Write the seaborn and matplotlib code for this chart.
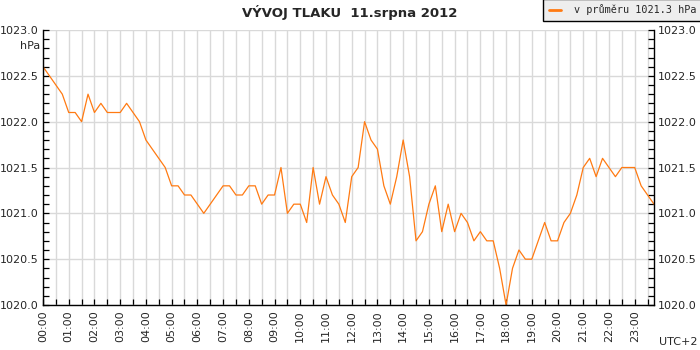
import numpy as np
import pandas as pd
import seaborn as sns
import matplotlib.pyplot as plt
from matplotlib.ticker import MultipleLocator, FixedLocator
from matplotlib.lines import Line2D

# tlak po 15 minutach, 00:00 - 23:45
pressure = [
    1022.6, 1022.5, 1022.4, 1022.3, 1022.1, 1022.1, 1022.0, 1022.3,
    1022.1, 1022.2, 1022.1, 1022.1, 1022.1, 1022.2, 1022.1, 1022.0,
    1021.8, 1021.7, 1021.6, 1021.5, 1021.3, 1021.3, 1021.2, 1021.2,
    1021.1, 1021.0, 1021.1, 1021.2, 1021.3, 1021.3, 1021.2, 1021.2,
    1021.3, 1021.3, 1021.1, 1021.2, 1021.2, 1021.5, 1021.0, 1021.1,
    1021.1, 1020.9, 1021.5, 1021.1, 1021.4, 1021.2, 1021.1, 1020.9,
    1021.4, 1021.5, 1022.0, 1021.8, 1021.7, 1021.3, 1021.1, 1021.4,
    1021.8, 1021.4, 1020.7, 1020.8, 1021.1, 1021.3, 1020.8, 1021.1,
    1020.8, 1021.0, 1020.9, 1020.7, 1020.8, 1020.7, 1020.7, 1020.4,
    1020.0, 1020.4, 1020.6, 1020.5, 1020.5, 1020.7, 1020.9, 1020.7,
    1020.7, 1020.9, 1021.0, 1021.2, 1021.5, 1021.6, 1021.4, 1021.6,
    1021.5, 1021.4, 1021.5, 1021.5, 1021.5, 1021.3, 1021.2, 1021.1,
]
hour_labels = [f"{h:02d}:00" for h in range(24)]
title = "VÝVOJ TLAKU  11.srpna 2012"
legend_label = "v průměru 1021.3 hPa"

df = pd.DataFrame({
    'hour': np.arange(len(pressure)) * 0.25,
    'tlak': pressure,
})

sns.set_style('white')
plt.rcParams['font.family'] = ['DejaVu Sans']

fig = plt.figure(figsize=(7, 3.5), dpi=100)
ax = fig.add_axes([43 / 700, 45 / 350, 611 / 700, 275 / 350])

grid_c = '#d9d9d9'
line_c = '#ff7a12'

sns.lineplot(data=df, x='hour', y='tlak', color=line_c, linewidth=0.9, ax=ax)

ax.set_xlim(0, 23.75)
ax.set_ylim(1020.0, 1023.0)

ax.xaxis.set_major_locator(FixedLocator(range(24)))
ax.xaxis.set_minor_locator(MultipleLocator(0.5))
ax.set_xticklabels(hour_labels, rotation=90, fontsize=8)
ax.yaxis.set_major_locator(MultipleLocator(0.5))
ax.yaxis.set_minor_locator(MultipleLocator(0.1))
ax.yaxis.set_major_formatter(lambda v, p: f"{v:.1f}")

ax.grid(True, which='major', axis='y', color=grid_c, linewidth=1)
ax.grid(True, which='both', axis='x', color=grid_c, linewidth=1)
ax.set_axisbelow(True)

ax.tick_params(axis='both', which='both', direction='in', color='black',
               width=0.9, labelsize=8)
ax.tick_params(axis='y', which='both', left=True, right=True,
               labelleft=True, labelright=True, length=4, pad=3)
ax.tick_params(axis='x', which='both', bottom=True, length=4, pad=4)

for side in ['left', 'bottom', 'right']:
    ax.spines[side].set_color('black')
    ax.spines[side].set_linewidth(1)
ax.spines['top'].set_visible(False)

ax.set_xlabel('')
ax.set_ylabel('')

fig.text(40 / 700, 1 - 46 / 350, 'hPa', ha='right', va='center', fontsize=8)
fig.text(697 / 700, 1 - 342 / 350, 'UTC+2', ha='right', va='center', fontsize=8)
fig.text(350 / 700, 1 - 12 / 350, title, ha='center', va='center',
         fontsize=9.5, fontweight='bold')

handle = Line2D([0], [0], color=line_c, linewidth=2)
leg = fig.legend(handles=[handle], labels=[legend_label], loc='upper right',
                 bbox_to_anchor=(1.003, 1.003), frameon=True, fancybox=False,
                 handlelength=1.2, handletextpad=1.3, borderpad=0.55,
                 borderaxespad=0.0,
                 prop={'family': 'DejaVu Sans Mono', 'size': 7.3})
leg.get_frame().set_facecolor('#eeeeee')
leg.get_frame().set_edgecolor('black')
leg.get_frame().set_linewidth(1)
leg.get_frame().set_alpha(1)

fig.savefig('out.png', dpi=100, facecolor='white')
